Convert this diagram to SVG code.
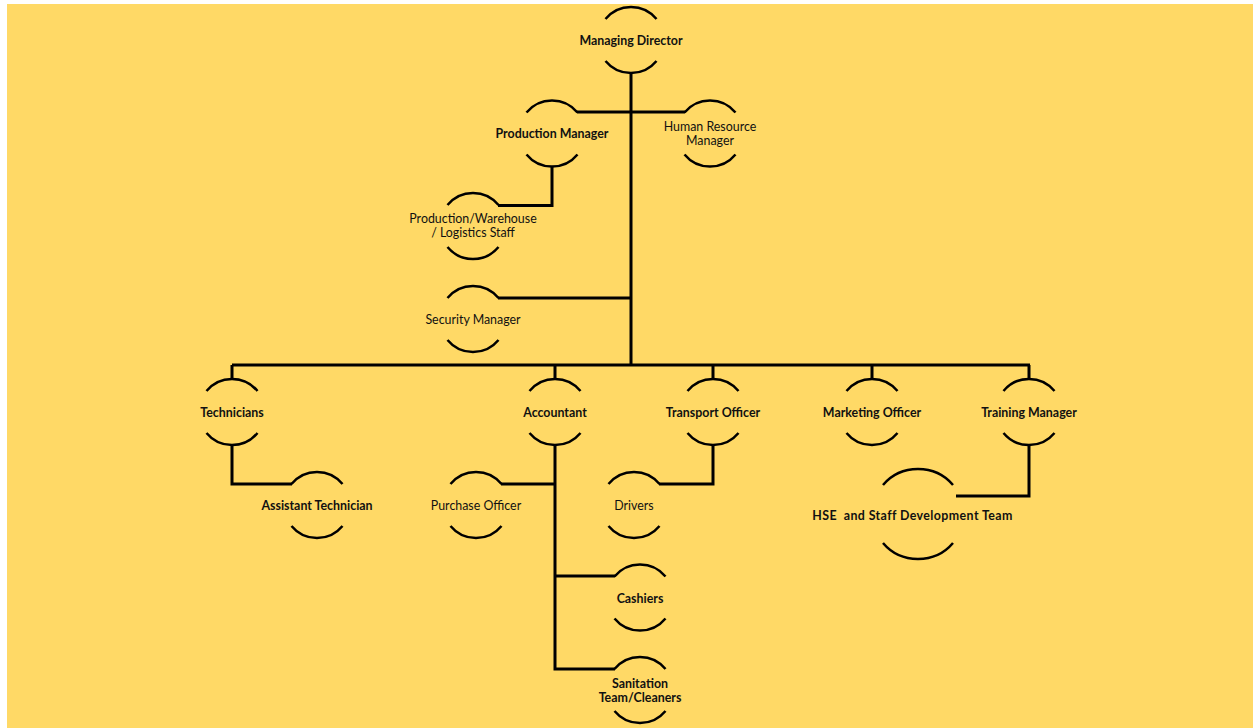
<svg xmlns="http://www.w3.org/2000/svg" width="1253" height="728" viewBox="0 0 1253 728">
<style>
.arc{fill:none;stroke:#000;stroke-width:2.5}
.ln{fill:none;stroke:#000;stroke-width:3}
text{font-family:Lato,"Liberation Sans",sans-serif;font-size:12.4px;fill:#111;text-anchor:middle}
.b{font-weight:bold}
</style>
<rect width="1253" height="728" fill="#fff"/>
<rect x="7" y="4" width="1246" height="724" fill="#FFD966"/>
<g id="connectors">
<path class="ln" d="M631 73V365"/>
<path class="ln" d="M577 112H685"/>
<path class="ln" d="M552 167V205.5H498"/>
<path class="ln" d="M498 298H631"/>
<path class="ln" d="M232 365H1030"/>
<path class="ln" d="M232 365V379M555 365V379M713 365V379M872 365V379M1029 365V379"/>
<path class="ln" d="M232 445V484H292"/>
<path class="ln" d="M555 445V669H615M555 484H501M555 576H615"/>
<path class="ln" d="M713 445V484H659"/>
<path class="ln" d="M1029 445V496H956"/>
</g>
<g id="n-md"><path class="arc" d="M605.5 19A33 33 0 0 1 656.5 19M605.5 61A33 33 0 0 0 656.5 61"/><text class="b" x="631" y="45">Managing Director</text></g>
<g id="n-pm"><path class="arc" d="M526.5 112.5A33 33 0 0 1 577.5 112.5M526.5 154.5A33 33 0 0 0 577.5 154.5"/><text class="b" x="552" y="138">Production Manager</text></g>
<g id="n-hr"><path class="arc" d="M684.5 112.5A33 33 0 0 1 735.5 112.5M684.5 154.5A33 33 0 0 0 735.5 154.5"/><text x="710" y="131">Human Resource</text><text x="710" y="145">Manager</text></g>
<g id="n-pw"><path class="arc" d="M447.5 205A33 33 0 0 1 498.5 205M447.5 247A33 33 0 0 0 498.5 247"/><text x="473" y="223">Production/Warehouse</text><text x="473" y="237">/ Logistics Staff</text></g>
<g id="n-sm"><path class="arc" d="M447.5 298A33 33 0 0 1 498.5 298M447.5 340A33 33 0 0 0 498.5 340"/><text x="473" y="324">Security Manager</text></g>
<g id="n-tech"><path class="arc" d="M206.5 391A33 33 0 0 1 257.5 391M206.5 433A33 33 0 0 0 257.5 433"/><text class="b" x="232" y="417">Technicians</text></g>
<g id="n-at"><path class="arc" d="M291.5 484A33 33 0 0 1 342.5 484M291.5 526A33 33 0 0 0 342.5 526"/><text class="b" x="317" y="510">Assistant Technician</text></g>
<g id="n-acc"><path class="arc" d="M529.5 391A33 33 0 0 1 580.5 391M529.5 433A33 33 0 0 0 580.5 433"/><text class="b" x="555" y="417">Accountant</text></g>
<g id="n-po"><path class="arc" d="M450.5 484A33 33 0 0 1 501.5 484M450.5 526A33 33 0 0 0 501.5 526"/><text x="476" y="510">Purchase Officer</text></g>
<g id="n-to"><path class="arc" d="M687.5 391A33 33 0 0 1 738.5 391M687.5 433A33 33 0 0 0 738.5 433"/><text class="b" x="713" y="417">Transport Officer</text></g>
<g id="n-dr"><path class="arc" d="M608.5 484A33 33 0 0 1 659.5 484M608.5 526A33 33 0 0 0 659.5 526"/><text x="634" y="510">Drivers</text></g>
<g id="n-mo"><path class="arc" d="M846.5 391A33 33 0 0 1 897.5 391M846.5 433A33 33 0 0 0 897.5 433"/><text class="b" x="872" y="417">Marketing Officer</text></g>
<g id="n-tm"><path class="arc" d="M1003.5 391A33 33 0 0 1 1054.5 391M1003.5 433A33 33 0 0 0 1054.5 433"/><text class="b" x="1029" y="417">Training Manager</text></g>
<g id="n-hse"><path class="arc" d="M883 485A45 43 0 0 1 953 485M883 543A45 43 0 0 0 953 543"/><text class="b" x="912.5" y="520" xml:space="preserve" letter-spacing="0.4">HSE  and Staff Development Team</text></g>
<g id="n-cash"><path class="arc" d="M614.5 576.5A33 33 0 0 1 665.5 576.5M614.5 618.5A33 33 0 0 0 665.5 618.5"/><text class="b" x="640" y="603">Cashiers</text></g>
<g id="n-san"><path class="arc" d="M614.5 669A33 33 0 0 1 665.5 669M614.5 711A33 33 0 0 0 665.5 711"/><text class="b" x="640" y="688">Sanitation</text><text class="b" x="640" y="702">Team/Cleaners</text></g>
</svg>
